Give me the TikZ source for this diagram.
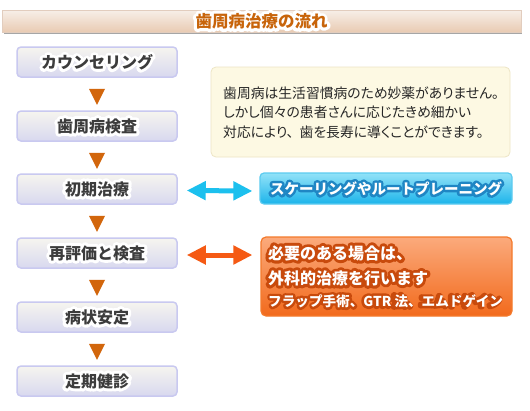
\documentclass[tikz,border=0pt]{standalone}
\usepackage{fontspec}
\newfontfamily\jp{Noto Sans CJK JP}
\newfontfamily\jpinfo{Noto Sans CJK JP}[RawFeature=+palt]
\newfontfamily\jpglow{Noto Sans CJK JP}[FakeBold=42]
\usetikzlibrary{arrows.meta}
\definecolor{tgtop}{HTML}{F7EFE8}
\definecolor{tgbot}{HTML}{E9CBB3}
\definecolor{tgline}{HTML}{E2CDBE}
\definecolor{ttext}{HTML}{C8640A}
\definecolor{lbtop}{HTML}{F6F5EF}
\definecolor{lbbot}{HTML}{D8D8EF}
\definecolor{lbline}{HTML}{C9C9F0}
\definecolor{ltext}{HTML}{3C3C3C}
\definecolor{trif}{HTML}{D2660C}
\definecolor{infof}{HTML}{FDF9E3}
\definecolor{infol}{HTML}{EDE5C5}
\definecolor{ctop}{HTML}{92E2F8}
\definecolor{cbot}{HTML}{1CB4EA}
\definecolor{cline}{HTML}{5CCBF0}
\definecolor{cglow}{HTML}{1F86C4}
\definecolor{carrow}{HTML}{1CC0EE}
\definecolor{otop}{HTML}{FBAA7C}
\definecolor{obot}{HTML}{F26A1C}
\definecolor{oline}{HTML}{F47A2C}
\definecolor{oglow}{HTML}{C84A0C}
\definecolor{oarrow}{HTML}{F55A14}
% outlined text: emboldened copy underneath in the glow colour, text on top
\newcommand\glowtxt[3]{\leavevmode\special{pdf:literal direct 1 j 1 M}\rlap{\color{#1}\jpglow\mdseries #3}{\color{#2}#3}}
\tikzset{
  lbox/.style={draw=lbline, line width=1.5pt, rounded corners=4pt, top color=lbtop, bottom color=lbbot,
    minimum width=160pt, minimum height=30pt, inner sep=0pt,
    font=\jp\bfseries\fontsize{16}{18}\selectfont},
  tri/.style={fill=trif},
  infotext/.style={anchor=west, inner sep=0pt, font=\jpinfo\fontsize{13.8}{14}\selectfont, text=black!85},
  otext/.style={anchor=west, inner sep=0pt, font=\jp\bfseries\fontsize{16}{18}\selectfont},
  dblarrow/.style={line width=5pt, {Triangle[length=19pt,width=18pt]}-{Triangle[length=19pt,width=18pt]}},
}
\begin{document}
\begin{tikzpicture}[x=1pt,y=-1pt]
\useasboundingbox (0,0) rectangle (530,410);
\fill[white] (0,0) rectangle (530,410);
% title bar
\fill[black!35] (3.5,11.5) rectangle (522,33.5);
\node[draw=tgline, line width=0.6pt, top color=tgtop, bottom color=tgbot, minimum width=519pt, minimum height=22pt, inner sep=0pt,
  font=\jp\bfseries\fontsize{16.5}{18}\selectfont] (title) at (261.5,21) {\glowtxt{white}{ttext}{歯周病治療の流れ}};
% flow boxes
\node[lbox] (b1) at (97,62) {\glowtxt{white}{ltext}{カウンセリング}};
\node[lbox] (b2) at (97,126) {\glowtxt{white}{ltext}{歯周病検査}};
\node[lbox] (b3) at (97,189) {\glowtxt{white}{ltext}{初期治療}};
\node[lbox] (b4) at (97,253) {\glowtxt{white}{ltext}{再評価と検査}};
\node[lbox] (b5) at (97,317) {\glowtxt{white}{ltext}{病状安定}};
\node[lbox] (b6) at (97,381) {\glowtxt{white}{ltext}{定期健診}};
% triangles
\foreach \a in {b1,b2,b3,b4,b5}{
  \fill[tri] (\a.south) ++(-8,11) -- ++(16,0) -- ++(-8,16) -- cycle;
}
% info box
\node[draw=infol, line width=0.8pt, fill=infof, rounded corners=5pt, minimum width=299pt, minimum height=90pt, inner sep=0pt] (info) at (360.5,112) {};
\node[infotext] (i1) at (223,93) {歯周病は生活習慣病のため妙薬がありません。};
\node[infotext] (i2) at (223,112) {しかし個々の患者さんに応じたきめ細かい};
\node[infotext] (i3) at (223,132) {対応により、\hspace{6pt}歯を長寿に導くことができます。};
% cyan box
\node[draw=cline, line width=1.2pt, rounded corners=4pt, top color=ctop, bottom color=cbot, minimum width=252pt, minimum height=31pt, inner sep=0pt,
  font=\jp\bfseries\fontsize{14.5}{16}\selectfont] (cy) at (386,188.5) {\glowtxt{cglow}{white}{スケーリングやルートプレーニング}};
% orange box
\node[draw=oline, line width=1.2pt, rounded corners=5pt, top color=otop, bottom color=obot, minimum width=251pt, minimum height=79pt, inner sep=0pt] (or) at (386.5,276.5) {};
\node[otext] (o1) at (268,253) {\glowtxt{oglow}{white}{必要のある場合は、}};
\node[otext] (o2) at (268,278) {\glowtxt{oglow}{white}{外科的治療を行います}};
\node[otext, font=\jp\bfseries\fontsize{13.6}{16}\selectfont] (o3) at (268,301) {\glowtxt{oglow}{white}{フラップ手術、GTR 法、エムドゲイン}};
% double arrows
\draw[dblarrow, carrow] ([xshift=9pt,yshift=-1.5pt]b3.east) -- ([xshift=-7pt,yshift=-2.5pt]cy.west);
\draw[dblarrow, oarrow] ([xshift=9pt,yshift=-2pt]b4.east) -- ([xshift=-8pt,yshift=21.5pt]or.west);
\end{tikzpicture}
\end{document}
